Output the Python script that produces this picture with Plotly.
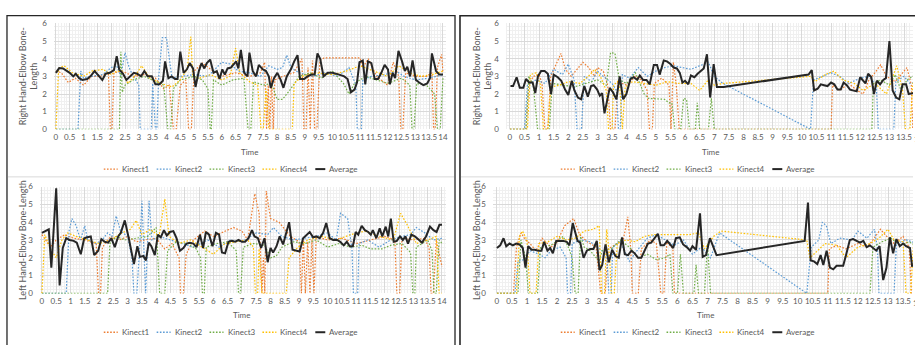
import plotly.graph_objects as go

# ---------------- data (time in s, bone length) ----------------
SERIES_NAMES = ["Kinect1", "Kinect2", "Kinect3", "Kinect4", "Average"]
X_TICKS = [i * 0.5 for i in range(29)]
X_TICK_LABELS = ["%g" % v for v in X_TICKS]
Y_TICKS = [0, 1, 2, 3, 4, 5, 6]
TITLE_RIGHT = "Right Hand-Elbow Bone-<br>Length"
TITLE_LEFT = "Left Hand-Elbow Bone-Length"
X_TITLE = "Time"

# ---- top-left : Right hand, recording A ----
TL_K1 = [(0,3.3),(0.2,3.2),(0.45,2.65),(0.7,2.9),(1.0,2.5),(1.3,3.0),(1.6,3.0),(1.9,3.2),(1.97,0),(2.03,0),(2.1,3.2),(2.4,3.3),(2.8,3.0),(3.2,3.1),(3.6,2.9),(3.9,2.3),(4.1,2.5),(4.25,0),(4.35,0),(4.5,2.5),(4.7,2.8),(4.8,0),(4.9,0),(5.0,3.3),(5.3,3.75),(5.6,3.4),(6.0,3.0),(6.5,3.2),(7.0,3.0),(7.4,3.2),(7.55,3.8),(7.62,0),(7.68,2.5),(7.74,0),(7.8,3.0),(7.86,0),(7.92,2.8),(8.2,3.0),(8.6,3.2),(8.9,4.0),(8.97,0),(9.05,0),(9.12,3.5),(9.2,0),(9.28,3.9),(9.36,0),(9.44,0),(9.55,3.9),(9.7,4.05),(10.5,4.05),(11.0,4.05),(11.1,3.5),(11.3,4.0),(11.6,3.0),(12.0,2.5),(12.2,3.8),(12.4,3.0),(12.47,0),(12.55,0),(12.65,3.2),(13.0,3.0),(13.4,3.0),(13.6,3.2),(13.66,0),(13.72,0),(13.8,3.5),(13.95,4.25),(14.0,3.2)]
TL_K2 = [(0,0),(0.8,0),(0.9,3.3),(1.0,2.9),(1.3,3.0),(1.7,3.1),(2.0,3.5),(2.2,3.6),(2.35,3.0),(2.5,4.35),(2.65,3.5),(2.8,3.0),(3.0,2.5),(3.05,0),(3.45,0),(3.5,2.6),(3.6,0),(3.65,0),(3.72,3.0),(3.85,5.2),(4.0,5.2),(4.1,4.0),(4.2,2.9),(4.5,3.0),(5.0,3.1),(5.5,3.0),(6.0,3.8),(6.3,3.7),(6.6,3.3),(7.0,3.2),(7.4,3.0),(7.7,3.6),(8.0,3.4),(8.2,3.5),(8.35,4.2),(8.5,3.5),(8.8,3.2),(9.3,3.0),(9.7,3.2),(10.2,3.0),(10.6,3.5),(10.85,2.5),(10.9,0),(11.05,0),(11.1,2.8),(11.4,3.0),(11.9,3.1),(12.3,3.3),(12.6,3.0),(13.0,2.8),(13.5,2.9),(14.0,3.1)]
TL_K3 = [(0,0),(2.3,0),(2.35,4.4),(2.4,2.1),(2.5,2.5),(2.8,2.8),(3.2,3.0),(3.6,2.7),(3.9,2.5),(4.05,0),(4.15,0),(4.25,2.3),(4.5,2.8),(5.0,3.0),(5.3,2.8),(5.5,2.3),(5.58,0),(5.62,0),(5.7,2.8),(6.0,2.5),(6.4,2.8),(6.8,2.9),(6.95,0),(7.05,0),(7.15,2.7),(7.5,2.5),(7.8,2.6),(8.0,1.7),(8.2,1.7),(8.5,2.3),(8.8,3.0),(9.2,3.2),(9.6,2.9),(10.0,3.3),(10.4,2.6),(10.6,2.0),(10.8,2.6),(11.2,3.0),(11.6,2.8),(12.0,2.6),(12.5,2.9),(12.8,2.5),(12.88,0),(12.95,0),(13.05,2.6),(13.4,2.5),(13.7,2.0),(13.8,0),(13.9,0),(14.0,2.9)]
TL_K4 = [(0,0),(0.1,3.45),(0.3,3.6),(0.6,3.2),(1.0,3.0),(1.3,3.3),(1.7,3.4),(2.0,3.1),(2.2,3.3),(2.4,3.3),(2.6,2.6),(2.9,3.1),(3.1,3.6),(3.4,2.9),(3.8,2.6),(4.2,2.4),(4.5,2.8),(4.75,3.4),(4.88,5.25),(4.95,3.0),(5.2,2.9),(5.6,3.1),(6.0,2.8),(6.3,3.0),(6.5,4.6),(6.65,3.2),(7.0,2.7),(7.3,2.5),(7.42,0),(7.5,0),(7.6,2.3),(7.7,0),(8.55,0),(8.62,2.6),(8.9,3.0),(9.4,3.2),(10.0,3.1),(10.5,3.3),(11.0,3.6),(11.5,3.3),(12.0,3.0),(12.4,3.6),(12.8,3.2),(13.2,3.0),(13.6,3.1),(14.0,3.3)]
TL_AVG = [(0,3.2),(0.12,3.47),(0.26,3.45),(0.4,3.3),(0.5,3.2),(0.63,3.0),(0.72,3.15),(0.84,2.9),(0.96,2.8),(1.13,2.85),(1.25,3.0),(1.4,3.3),(1.54,3.05),(1.68,2.8),(1.8,3.15),(1.95,3.2),(2.1,3.35),(2.2,4.15),(2.29,3.4),(2.43,3.15),(2.55,2.8),(2.7,3.0),(2.82,3.2),(2.94,3.15),(3.08,3.0),(3.2,3.3),(3.32,3.0),(3.47,3.0),(3.6,2.55),(3.75,2.55),(3.87,2.75),(3.95,3.85),(4.07,2.9),(4.19,3.0),(4.31,2.85),(4.4,2.85),(4.5,4.4),(4.62,3.2),(4.74,3.4),(4.84,3.75),(4.96,3.45),(5.05,2.4),(5.17,3.3),(5.27,3.75),(5.37,3.45),(5.46,3.75),(5.58,3.95),(5.7,3.2),(5.82,3.3),(5.92,2.85),(6.02,3.4),(6.11,3.1),(6.21,3.45),(6.33,3.5),(6.43,3.7),(6.52,3.85),(6.6,3.45),(6.69,4.5),(6.81,3.2),(6.93,3.0),(7.0,4.35),(7.12,3.3),(7.24,3.0),(7.34,3.65),(7.48,3.4),(7.6,3.3),(7.7,3.0),(7.77,2.35),(7.89,2.9),(8.01,3.2),(8.13,2.8),(8.23,2.35),(8.35,3.0),(8.5,3.4),(8.62,3.85),(8.74,4.2),(8.83,2.85),(8.98,2.85),(9.1,3.0),(9.24,3.1),(9.36,3.1),(9.46,4.3),(9.56,4.0),(9.68,3.0),(9.83,3.2),(10.0,3.2),(10.25,3.1),(10.43,3.0),(10.55,2.85),(10.67,2.1),(10.8,2.25),(10.89,2.65),(10.98,3.8),(11.1,3.9),(11.19,2.55),(11.29,3.85),(11.41,3.75),(11.53,2.85),(11.65,2.85),(11.77,3.2),(11.89,3.65),(12.01,3.4),(12.08,2.55),(12.18,3.2),(12.27,2.9),(12.39,4.45),(12.52,3.85),(12.62,3.3),(12.71,3.55),(12.81,3.0),(12.9,3.9),(13.02,2.8),(13.14,2.65),(13.29,2.5),(13.43,2.6),(13.53,2.9),(13.6,4.3),(13.75,3.3),(13.87,3.1),(14.0,3.1)]

# ---- top-right : Right hand, recording B ----
TR_K1 = [(0,0),(0.55,0),(0.65,2.5),(0.8,3.0),(1.0,3.1),(1.1,2.6),(1.2,0),(1.3,0),(1.4,3.0),(1.6,3.8),(1.75,4.3),(1.9,3.4),(2.1,3.0),(2.3,3.4),(2.5,3.8),(2.7,3.5),(2.9,3.0),(3.0,3.5),(3.2,3.3),(3.35,2.5),(3.45,0),(3.6,0),(3.7,2.7),(4.0,2.5),(4.3,3.0),(4.5,2.8),(4.7,2.2),(4.78,0),(4.88,0),(4.95,2.6),(5.2,2.9),(5.45,2.5),(5.52,0),(5.6,3.8),(5.7,2.5),(5.8,0),(11.0,0),(11.05,2.5),(11.3,2.2),(11.6,2.6),(11.9,2.2),(12.1,2.0),(12.3,2.8),(12.5,3.2),(12.7,3.65),(12.9,3.0),(13.2,2.7),(13.5,3.3),(13.6,3.5),(13.75,2.5),(13.8,0),(14.0,0)]
TR_K2 = [(0,0),(0.5,0),(0.6,2.5),(0.9,2.8),(1.2,2.6),(1.5,3.4),(1.8,3.1),(2.0,3.7),(2.2,2.8),(2.3,0),(2.45,0),(2.55,3.0),(2.8,2.7),(3.0,3.3),(3.2,3.0),(3.5,2.6),(3.65,2.2),(3.72,0),(3.78,0),(3.85,3.1),(4.1,2.9),(4.4,3.5),(4.7,3.0),(5.0,3.3),(5.3,3.5),(5.6,3.6),(5.9,3.5),(6.2,3.4),(6.5,3.6),(6.8,3.8),(7.0,3.0),(7.3,2.6),(10.3,0),(10.4,2.8),(10.7,3.0),(11.0,3.2),(11.3,3.0),(11.6,2.6),(12.0,2.9),(12.3,3.0),(12.55,2.5),(12.62,0),(13.15,0),(13.22,2.7),(13.5,3.0),(13.7,2.6),(14.0,2.7)]
TR_K3 = [(0,0),(0.55,0),(0.65,3.0),(0.8,2.5),(0.95,0),(1.35,0),(1.45,2.6),(1.8,2.5),(2.2,2.4),(2.6,2.6),(3.0,2.8),(3.3,2.5),(3.45,4.35),(3.6,4.3),(3.75,2.8),(4.0,2.6),(4.3,3.2),(4.6,2.0),(4.75,1.75),(5.3,1.7),(5.45,1.5),(5.55,1.5),(5.65,0),(5.85,0),(5.95,1.75),(6.05,1.7),(6.15,0),(6.35,0),(6.42,1.5),(6.5,0),(6.8,0),(6.9,1.75),(7.0,0),(12.4,0),(12.45,2.6),(12.7,2.8),(13.0,2.5),(13.2,3.1),(13.4,2.2),(13.6,2.8),(13.8,3.0),(14.0,3.0)]
TR_K4 = [(0,0),(0.6,0),(0.7,3.1),(0.9,3.2),(1.05,2.5),(1.15,0),(1.3,0),(1.4,2.4),(1.7,2.5),(2.0,2.7),(2.4,2.6),(2.75,3.1),(2.9,3.4),(3.1,3.0),(3.3,2.2),(3.38,0),(3.5,0),(3.55,2.5),(3.75,2.8),(3.85,0),(3.95,2.4),(4.2,2.7),(4.6,2.6),(5.0,2.5),(5.4,2.7),(5.8,2.6),(6.2,2.6),(6.5,2.2),(6.8,2.8),(7.0,2.5),(7.3,2.6),(10.3,3.0),(10.45,2.7),(10.8,3.1),(11.1,3.3),(11.4,2.8),(11.8,2.6),(12.1,2.2),(12.5,2.6),(12.9,2.0),(13.25,3.6),(13.45,2.2),(13.55,0),(13.7,0),(13.8,2.6),(14.0,2.5)]
TR_AVG = [(0.02,2.45),(0.11,2.45),(0.23,2.95),(0.34,2.35),(0.46,2.35),(0.55,2.85),(0.66,2.65),(0.78,2.65),(0.87,2.05),(0.96,3.0),(1.07,3.3),(1.19,3.3),(1.3,3.15),(1.41,2.0),(1.5,3.1),(1.64,2.95),(1.76,2.75),(1.89,2.25),(2.0,1.95),(2.12,2.75),(2.21,2.2),(2.33,1.8),(2.44,1.7),(2.55,2.45),(2.67,1.85),(2.78,2.45),(2.87,2.5),(2.99,2.25),(3.08,1.9),(3.16,2.05),(3.24,0.9),(3.33,1.7),(3.42,2.35),(3.53,2.1),(3.65,1.7),(3.76,3.0),(3.88,1.7),(3.99,2.0),(4.13,2.85),(4.24,2.95),(4.36,2.8),(4.45,3.05),(4.56,2.8),(4.68,2.8),(4.79,2.55),(4.93,3.65),(5.04,3.65),(5.13,3.1),(5.27,3.9),(5.38,3.85),(5.5,3.7),(5.61,3.5),(5.72,3.45),(5.82,3.2),(5.91,2.65),(6.0,2.75),(6.11,2.55),(6.2,3.05),(6.32,2.95),(6.43,3.15),(6.54,3.3),(6.64,3.45),(6.75,4.25),(6.86,1.8),(6.98,3.7),(7.09,2.4),(7.32,2.4),(10.23,3.1),(10.34,3.35),(10.42,2.2),(10.54,2.3),(10.65,2.55),(10.76,2.5),(10.88,2.45),(11.0,2.65),(11.11,2.55),(11.22,2.25),(11.33,2.25),(11.43,2.65),(11.54,2.5),(11.65,2.25),(11.77,2.2),(11.88,2.15),(12.0,2.95),(12.09,2.8),(12.18,2.6),(12.27,3.15),(12.38,2.95),(12.47,2.0),(12.57,2.75),(12.68,2.55),(12.79,2.8),(12.88,2.9),(13.0,5.0),(13.11,2.2),(13.23,1.8),(13.34,1.7),(13.45,2.55),(13.57,2.55),(13.66,2.0),(13.8,2.05),(14.0,2.1)]

# ---- bottom-left : Left hand, recording A ----
BL_K1 = [(0,3.3),(0.3,2.6),(0.5,3.0),(0.8,3.3),(1.1,3.1),(1.5,3.0),(1.9,2.8),(1.98,0),(2.05,0),(2.12,2.6),(2.4,3.2),(2.7,3.0),(3.0,3.2),(3.3,2.9),(3.6,3.0),(4.0,3.1),(4.3,2.5),(4.55,2.8),(4.8,2.0),(4.85,0),(4.95,0),(5.05,2.2),(5.3,3.0),(5.7,3.5),(6.0,3.2),(6.3,3.4),(6.7,3.7),(7.0,3.5),(7.2,3.0),(7.45,5.6),(7.6,4.5),(7.7,0),(7.75,2.0),(7.8,0),(7.85,5.75),(8.0,4.2),(8.3,4.0),(8.7,3.2),(9.0,2.9),(9.08,0),(9.15,3.0),(9.22,0),(9.3,2.9),(9.38,0),(9.45,3.0),(9.52,0),(9.6,3.2),(10.0,3.0),(10.5,3.1),(11.0,2.8),(11.5,3.0),(12.0,3.2),(12.35,3.0),(12.42,0),(12.52,0),(12.6,3.1),(13.0,3.0),(13.4,3.1),(13.55,2.5),(13.62,0),(13.7,0),(13.8,3.0),(14.0,1.5)]
BL_K2 = [(0,0),(0.85,0),(0.95,3.5),(1.05,4.2),(1.2,3.8),(1.35,3.0),(1.5,3.8),(1.6,3.0),(1.9,2.8),(2.1,3.0),(2.3,3.4),(2.45,3.2),(2.6,4.35),(2.75,3.5),(3.0,3.2),(3.15,2.0),(3.22,0),(3.32,0),(3.42,2.5),(3.5,5.2),(3.58,2.0),(3.63,0),(3.68,2.0),(3.75,5.2),(3.85,3.0),(4.1,3.2),(4.5,3.0),(4.9,2.8),(5.3,2.6),(5.8,3.0),(6.2,2.6),(6.6,3.0),(7.0,2.9),(7.5,3.4),(7.9,3.3),(8.1,3.7),(8.4,3.2),(8.8,3.0),(9.2,3.1),(9.6,3.2),(10.0,3.4),(10.3,3.0),(10.45,4.5),(10.7,4.2),(10.85,2.5),(10.9,0),(11.05,0),(11.1,2.8),(11.4,3.0),(11.8,2.6),(12.2,3.0),(12.6,3.2),(12.9,3.3),(13.1,3.7),(13.4,3.4),(13.7,3.0),(14.0,3.1)]
BL_K3 = [(0,0),(2.3,0),(2.38,2.8),(2.6,3.2),(2.9,3.0),(3.3,3.1),(3.7,3.2),(4.0,3.7),(4.12,0),(4.3,0),(4.4,2.4),(4.7,2.9),(5.1,2.8),(5.4,2.5),(5.55,2.0),(5.62,0),(5.68,0),(5.75,2.6),(6.1,2.8),(6.5,2.9),(6.8,2.4),(6.88,0),(6.95,0),(7.05,2.6),(7.4,2.8),(7.8,2.7),(8.0,2.0),(8.2,2.1),(8.4,2.6),(8.8,2.9),(9.2,2.8),(9.6,3.0),(10.0,2.6),(10.4,2.8),(10.8,2.6),(11.2,2.7),(11.5,2.5),(11.9,2.5),(12.2,2.7),(12.6,2.8),(12.9,2.3),(12.98,0),(13.05,0),(13.1,2.6),(13.5,3.0),(13.65,2.4),(13.72,0),(13.8,0),(13.9,3.0),(14.0,2.8)]
BL_K4 = [(0,0),(0.1,3.3),(0.3,2.5),(0.5,2.0),(0.7,3.0),(0.9,3.4),(1.2,3.2),(1.6,3.0),(2.0,2.8),(2.4,3.0),(2.8,3.4),(3.1,3.6),(3.3,4.1),(3.5,3.3),(3.8,3.6),(4.1,3.2),(4.3,5.3),(4.45,3.2),(4.8,2.8),(5.2,3.0),(5.6,2.6),(6.0,2.2),(6.4,2.8),(6.8,2.9),(7.2,3.0),(7.4,2.6),(7.47,0),(7.55,0),(7.6,2.5),(7.7,0),(8.55,0),(8.65,2.0),(8.9,2.5),(9.3,3.0),(9.8,3.2),(10.3,3.0),(10.8,3.3),(11.3,3.5),(11.8,3.2),(12.3,3.0),(12.55,4.5),(12.8,3.8),(13.1,2.8),(13.5,3.0),(13.8,3.2),(13.9,0),(14.0,0)]
BL_AVG = [(0,3.4),(0.15,3.55),(0.24,3.6),(0.33,1.45),(0.41,3.75),(0.5,5.9),(0.62,0.45),(0.73,2.55),(0.85,3.1),(0.97,3.0),(1.11,2.95),(1.22,2.85),(1.36,2.2),(1.48,3.1),(1.59,3.15),(1.71,3.2),(1.83,2.15),(1.97,2.4),(2.08,3.05),(2.2,2.9),(2.32,2.85),(2.43,3.1),(2.55,2.6),(2.67,3.2),(2.76,3.4),(2.9,4.1),(3.04,3.1),(3.13,2.3),(3.22,1.65),(3.34,2.65),(3.43,2.05),(3.55,2.1),(3.64,1.85),(3.74,2.85),(3.83,2.65),(3.95,2.15),(4.06,3.3),(4.16,3.15),(4.27,3.55),(4.37,3.25),(4.48,3.45),(4.6,3.5),(4.71,3.1),(4.83,2.4),(4.95,2.55),(5.06,2.8),(5.18,2.85),(5.3,2.8),(5.41,2.6),(5.53,3.3),(5.64,2.55),(5.74,3.45),(5.85,3.3),(5.97,2.65),(6.09,3.4),(6.2,3.3),(6.3,2.3),(6.41,2.25),(6.53,2.9),(6.64,2.95),(6.76,2.9),(6.88,3.0),(7.0,2.9),(7.11,2.9),(7.23,3.1),(7.35,3.55),(7.44,3.2),(7.56,3.1),(7.67,2.55),(7.79,3.1),(7.9,1.75),(8.0,2.55),(8.09,2.3),(8.21,2.65),(8.32,3.2),(8.44,2.75),(8.53,3.35),(8.65,4.0),(8.77,2.45),(8.91,2.4),(9.02,2.35),(9.14,3.1),(9.26,3.3),(9.37,3.45),(9.49,3.15),(9.6,3.2),(9.72,3.1),(9.84,3.4),(9.95,3.95),(10.07,3.1),(10.19,3.0),(10.33,3.0),(10.44,2.9),(10.56,2.7),(10.67,2.9),(10.77,2.65),(10.88,2.65),(10.98,3.45),(11.07,3.3),(11.19,3.8),(11.3,3.55),(11.42,3.45),(11.51,3.3),(11.58,3.55),(11.7,3.1),(11.82,3.65),(11.91,3.2),(12.03,3.75),(12.12,3.2),(12.21,4.2),(12.31,2.9),(12.42,2.95),(12.53,3.2),(12.63,3.0),(12.72,3.2),(12.81,2.8),(12.93,3.3),(13.05,3.2),(13.16,3.05),(13.3,2.85),(13.44,3.2),(13.58,3.75),(13.7,3.55),(13.81,3.45),(13.91,3.85),(14.0,3.85)]

# ---- bottom-right : Left hand, recording B ----
BR_K1 = [(0,0),(0.55,0),(0.65,2.6),(0.8,3.4),(0.95,3.0),(1.1,2.8),(1.3,2.4),(1.5,3.1),(1.8,2.6),(2.0,2.9),(2.25,3.8),(2.55,4.2),(2.75,3.3),(3.0,2.9),(3.3,2.6),(3.45,0),(3.6,0),(3.7,2.5),(4.0,2.8),(4.2,3.0),(4.35,4.3),(4.45,2.5),(4.5,0),(4.7,0),(4.8,2.5),(5.1,3.0),(5.3,2.8),(5.45,0),(5.55,0),(5.65,2.9),(5.85,2.5),(5.9,0),(11.0,0),(11.05,2.5),(11.3,2.7),(11.6,2.5),(12.0,2.8),(12.3,2.6),(12.5,3.0),(12.75,3.6),(12.9,3.3),(13.2,2.8),(13.5,3.2),(13.7,2.6),(13.78,0),(14.0,0)]
BR_K2 = [(0,0),(0.6,0),(0.7,1.8),(0.9,1.9),(1.1,2.4),(1.4,2.2),(1.6,2.0),(1.8,2.4),(2.1,2.6),(2.3,2.0),(2.35,0),(2.45,0),(2.5,2.8),(2.8,3.0),(3.1,2.9),(3.4,2.5),(3.65,2.2),(3.72,0),(3.8,0),(3.85,2.6),(4.1,2.9),(4.4,1.8),(4.7,2.5),(5.0,3.1),(5.3,3.3),(5.6,3.0),(5.9,2.7),(6.2,3.0),(6.5,2.2),(6.8,2.6),(7.1,2.0),(7.4,3.4),(10.3,0),(10.45,2.6),(10.7,3.0),(10.82,4.0),(10.95,3.8),(11.1,2.8),(11.4,3.1),(11.8,3.0),(12.0,3.5),(12.3,3.1),(12.55,3.6),(12.65,2.5),(12.7,0),(13.2,0),(13.28,2.8),(13.6,3.0),(14.0,2.8)]
BR_K3 = [(0,0),(0.7,0),(0.8,3.0),(0.95,2.0),(1.05,0),(1.35,0),(1.45,2.6),(1.8,2.7),(2.2,3.2),(2.4,2.5),(2.5,2.0),(2.6,0),(2.7,0),(2.78,3.2),(2.9,2.6),(3.1,2.4),(3.4,1.8),(3.5,2.4),(3.8,2.5),(4.1,3.0),(4.4,2.6),(4.7,2.0),(5.0,2.2),(5.3,1.9),(5.6,2.0),(5.75,2.2),(5.85,0),(6.0,0),(6.1,2.2),(6.2,0),(6.55,0),(6.62,1.6),(6.7,0),(6.9,0),(7.0,2.8),(7.1,0),(12.4,0),(12.5,2.6),(12.8,2.9),(13.1,3.1),(13.4,2.7),(13.7,2.9),(14.0,2.6)]
BR_K4 = [(0,0),(0.65,0),(0.75,3.2),(0.85,3.5),(1.0,3.0),(1.1,0),(1.3,0),(1.4,2.8),(1.7,2.9),(2.0,3.2),(2.3,3.0),(2.6,3.1),(2.9,3.5),(3.2,3.6),(3.4,3.8),(3.48,0),(3.58,0),(3.65,3.6),(3.75,2.0),(3.8,0),(3.9,0),(4.0,2.8),(4.3,3.0),(4.6,2.9),(4.9,3.2),(5.2,3.3),(5.6,3.3),(6.0,3.3),(6.4,3.3),(6.7,3.4),(6.9,2.5),(7.2,3.2),(7.45,3.5),(10.3,3.0),(10.4,2.0),(10.6,2.3),(10.9,2.8),(11.3,2.7),(11.6,2.0),(12.0,2.6),(12.4,2.8),(12.7,3.1),(13.0,3.6),(13.2,3.0),(13.5,2.9),(13.6,0),(13.75,0),(13.85,2.8),(14.0,2.7)]
BR_AVG = [(0,2.55),(0.11,2.7),(0.22,3.1),(0.31,2.65),(0.42,2.8),(0.53,2.7),(0.64,2.8),(0.75,2.75),(0.86,2.55),(0.95,1.45),(1.04,2.65),(1.15,2.45),(1.26,2.45),(1.37,2.4),(1.48,2.4),(1.57,2.9),(1.68,2.4),(1.77,2.55),(1.86,2.25),(1.97,2.95),(2.08,2.95),(2.21,2.95),(2.32,2.9),(2.41,2.7),(2.52,3.95),(2.61,3.3),(2.68,2.95),(2.77,2.85),(2.88,2.0),(2.99,2.4),(3.1,2.5),(3.21,2.5),(3.32,2.95),(3.41,1.3),(3.5,1.6),(3.61,2.75),(3.72,1.75),(3.83,2.45),(3.94,2.1),(4.05,2.0),(4.16,3.15),(4.25,2.2),(4.36,2.15),(4.47,2.4),(4.58,2.25),(4.69,2.0),(4.8,2.0),(4.91,2.4),(5.02,2.8),(5.13,2.85),(5.24,3.1),(5.35,3.35),(5.44,2.7),(5.55,2.7),(5.66,2.95),(5.77,2.75),(5.86,2.55),(5.95,3.1),(6.08,3.15),(6.19,2.75),(6.31,2.6),(6.42,2.4),(6.5,2.65),(6.62,2.45),(6.75,4.5),(6.84,2.05),(6.95,2.15),(7.08,3.1),(7.19,2.65),(7.3,2.15),(10.23,2.95),(10.34,5.1),(10.43,1.85),(10.54,1.8),(10.65,1.65),(10.76,2.15),(10.85,1.6),(10.96,2.4),(11.07,1.45),(11.18,1.35),(11.29,1.55),(11.4,1.55),(11.51,1.55),(11.62,2.25),(11.73,3.0),(11.84,3.05),(11.96,2.95),(12.07,2.85),(12.18,2.95),(12.29,2.6),(12.4,2.7),(12.5,2.55),(12.61,2.4),(12.72,2.65),(12.84,0.75),(12.95,1.45),(13.06,3.15),(13.17,2.25),(13.28,3.05),(13.39,2.65),(13.5,2.8),(13.6,2.65),(13.73,2.55),(13.8,1.55),(14.0,1.6)]

# ---------------- styling ----------------
W, H = 915, 345
COLORS = ["#ED7D31", "#5B9BD5", "#70AD47", "#FFC000", "#262626"]
FONT = "Lato, 'Liberation Sans', sans-serif"
TXT = "#595959"
DOT = "1.6px,1.6px"
TICK_SIZE = 8
LEG_SIZE = 8
TITLE_SIZE = 9

def px(x):
    return x / W

def py(y):
    return 1 - y / H

# panel geometry in pixels: plot left/right, top/bottom, pixel of t=0, pixels per second
PANELS = [
    dict(key="1", data=[TL_K1, TL_K2, TL_K3, TL_K4, TL_AVG], l=54, r=447, t=19, b=128, x0=56, k=27.71,
         ytitle=TITLE_RIGHT, ytx=28, ttx=250, tty=151, legx=104, legy=169, cut14=None),
    dict(key="2", data=[TR_K1, TR_K2, TR_K3, TR_K4, TR_AVG], l=507, r=915, t=19, b=128, x0=511, k=29.26,
         ytitle=TITLE_RIGHT, ytx=483, ttx=712, tty=151, legx=562, legy=169, cut14=921),
    dict(key="3", data=[BL_K1, BL_K2, BL_K3, BL_K4, BL_AVG], l=40, r=447, t=187, b=297, x0=42, k=28.64,
         ytitle=TITLE_LEFT, ytx=23, ttx=242, tty=319, legx=104, legy=337, cut14=None),
    dict(key="4", data=[BR_K1, BR_K2, BR_K3, BR_K4, BR_AVG], l=494, r=915, t=187, b=297, x0=498, k=30.15,
         ytitle=TITLE_LEFT, ytx=478, ttx=707, tty=319, legx=562, legy=337, cut14=920),
]

fig = go.Figure()
layout = dict(
    width=W, height=H, margin=dict(l=0, r=0, t=0, b=0),
    paper_bgcolor="white", plot_bgcolor="white", showlegend=False,
    font=dict(family=FONT, size=9, color=TXT),
)
annotations = []
shapes = []

for p in PANELS:
    kx = "x" + ("" if p["key"] == "1" else p["key"])
    ky = "y" + ("" if p["key"] == "1" else p["key"])
    for i, (name, ser) in enumerate(zip(SERIES_NAMES, p["data"])):
        is_avg = name == "Average"
        fig.add_trace(go.Scatter(
            x=[a for a, _ in ser], y=[b for _, b in ser], name=name, mode="lines",
            xaxis=kx, yaxis=ky,
            line=dict(color=COLORS[i], width=2 if is_avg else 1.2, dash="solid" if is_avg else DOT),
            hoverinfo="skip",
        ))
    xr = [(p["l"] - p["x0"]) / p["k"], (p["r"] - p["x0"]) / p["k"]]
    axname_x = "xaxis" + ("" if p["key"] == "1" else p["key"])
    axname_y = "yaxis" + ("" if p["key"] == "1" else p["key"])
    layout[axname_x] = dict(
        domain=[px(p["l"]), px(p["r"])], anchor=ky, range=xr,
        tickmode="array", tickvals=X_TICKS, ticktext=X_TICK_LABELS, tickangle=0,
        showgrid=True, gridcolor="#d9d9d9", gridwidth=1, zeroline=False, showline=False,
        minor=dict(dtick=0.1, tick0=0, showgrid=True, gridcolor="#f0f0f0", gridwidth=1),
        tickfont=dict(size=TICK_SIZE, color=TXT, family=FONT), ticks="", ticklabelstandoff=2,
        ticklabeloverflow="allow",
    )
    layout[axname_y] = dict(
        domain=[py(p["b"]), py(p["t"])], anchor=kx, range=[0, 6],
        tickmode="array", tickvals=Y_TICKS,
        showgrid=True, gridcolor="#d9d9d9", gridwidth=1, zeroline=False, showline=False,
        minor=dict(dtick=0.2, tick0=0, showgrid=True, gridcolor="#f0f0f0", gridwidth=1),
        tickfont=dict(size=TICK_SIZE, color=TXT, family=FONT), ticks="", ticklabelstandoff=6,
    )
    # axis titles
    annotations.append(dict(x=px(p["ytx"]), y=py((p["t"] + p["b"]) / 2), xref="paper", yref="paper",
                            text=p["ytitle"], textangle=-90, showarrow=False,
                            font=dict(size=TITLE_SIZE, color=TXT, family=FONT), xanchor="center", yanchor="middle"))
    annotations.append(dict(x=px(p["ttx"]), y=py(p["tty"]), xref="paper", yref="paper", text=X_TITLE,
                            showarrow=False, font=dict(size=LEG_SIZE, color=TXT, family=FONT),
                            xanchor="center", yanchor="middle"))
    if p["cut14"]:
        annotations.append(dict(x=px(p["cut14"]), y=py(p["b"] + 10), xref="paper", yref="paper", text="14",
                                showarrow=False, font=dict(size=TICK_SIZE, color=TXT, family=FONT),
                                xanchor="center", yanchor="middle"))
    # hand-drawn legend
    for i, name in enumerate(SERIES_NAMES):
        is_avg = name == "Average"
        sx0 = p["legx"] + i * 53
        sx1 = sx0 + (10 if is_avg else 14)
        shapes.append(dict(type="line", xref="paper", yref="paper", x0=px(sx0), x1=px(sx1),
                           y0=py(p["legy"]), y1=py(p["legy"]),
                           line=dict(color=COLORS[i], width=2 if is_avg else 1.3,
                                     dash="solid" if is_avg else DOT)))
        annotations.append(dict(x=px(sx1 + 2), y=py(p["legy"]), xref="paper", yref="paper", text=name,
                                showarrow=False, xanchor="left", yanchor="middle",
                                font=dict(size=LEG_SIZE, color=TXT, family=FONT)))

# chart frames
shapes.append(dict(type="rect", xref="paper", yref="paper", x0=px(7), x1=px(456), y0=py(360), y1=py(11),
                   line=dict(color="#262626", width=1.3)))
shapes.append(dict(type="rect", xref="paper", yref="paper", x0=px(461), x1=px(930), y0=py(360), y1=py(11),
                   line=dict(color="#262626", width=1.6)))
for a, b in [(8, 455), (462, 915)]:
    shapes.append(dict(type="line", xref="paper", yref="paper", x0=px(a), x1=px(b), y0=py(177), y1=py(177),
                       line=dict(color="#d9d9d9", width=1)))

layout["annotations"] = annotations
layout["shapes"] = shapes
fig.update_layout(**layout)
fig.write_html("out.html", config={"displayModeBar": False},
               post_script="document.body.style.margin='0';document.body.style.overflow='hidden';")
